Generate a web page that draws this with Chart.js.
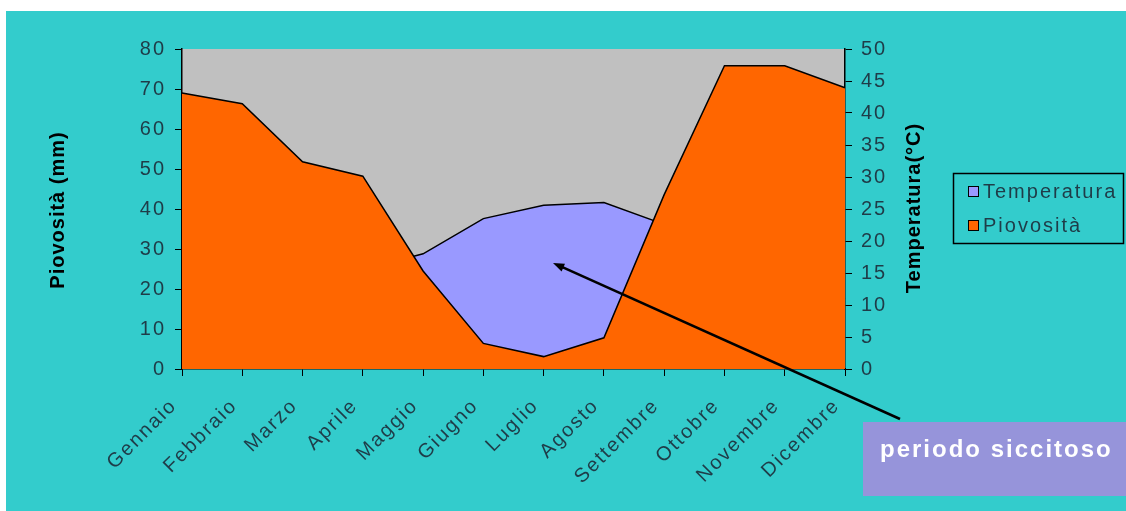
<!DOCTYPE html>
<html>
<head>
<meta charset="utf-8">
<script src="https://cdn.jsdelivr.net/npm/chart.js@4"></script>
<style>
  body { margin: 0; background: #fff; }
</style>
</head>
<body>
<canvas id="grafico" width="1126" height="511"></canvas>
<script>
const mesi = ['Gennaio', 'Febbraio', 'Marzo', 'Aprile', 'Maggio', 'Giugno', 'Luglio', 'Agosto', 'Settembre', 'Ottobre', 'Novembre', 'Dicembre'];
const piovosita = [69, 66.3, 51.8, 48.2, 24.5, 6.4, 3.1, 7.8, 43.6, 75.8, 75.8, 70.3];
const temperatura = [10, 11, 13, 15.5, 18, 23.5, 25.6, 26, 22.6, 18, 14, 11];
const maxPiovosita = 80, passoPiovosita = 10;
const maxTemperatura = 50, passoTemperatura = 5;

const FONT = "'Liberation Sans', Arial, sans-serif";
const TEAL = '#33cccc';
const TESTO = '#1f3c48';

const sfondo = {
  id: 'sfondo',
  afterInit(chart) { chart.ctx.letterSpacing = '2px'; },
  beforeLayout(chart) { chart.ctx.letterSpacing = '2px'; },
  beforeDraw(chart) {
    const ctx = chart.ctx;
    const a = chart.chartArea;
    ctx.letterSpacing = '2px';
    ctx.save();
    ctx.fillStyle = TEAL;
    ctx.fillRect(6, 11, chart.width - 6, chart.height - 11);
    ctx.fillStyle = '#c0c0c0';
    ctx.fillRect(a.left, a.top, a.right - a.left, a.bottom - a.top);
    ctx.restore();
  },
  afterDraw(chart) {
    const ctx = chart.ctx;
    ctx.save();
    // titoli assi
    ctx.fillStyle = '#000';
    ctx.font = 'bold 20px ' + FONT;
    ctx.letterSpacing = '1px';
    ctx.textAlign = 'center';
    ctx.textBaseline = 'middle';
    ctx.save();
    ctx.translate(58, 210);
    ctx.rotate(-Math.PI / 2);
    ctx.fillText('Piovosità (mm)', 0, 0);
    ctx.restore();
    ctx.save();
    ctx.translate(914, 208);
    ctx.rotate(-Math.PI / 2);
    ctx.fillText('Temperatura(°C)', 0, 0);
    ctx.restore();

    // legenda
    ctx.strokeStyle = '#000';
    ctx.lineWidth = 1.5;
    ctx.strokeRect(953.5, 173.5, 170, 70);
    const voci = [['Temperatura', '#9999ff', 192], ['Piovosità', '#ff6600', 226]];
    ctx.font = '20px ' + FONT;
    ctx.letterSpacing = '2px';
    ctx.textAlign = 'left';
    voci.forEach(([nome, colore, y]) => {
      ctx.fillStyle = colore;
      ctx.fillRect(968, y - 6, 11, 11);
      ctx.lineWidth = 1;
      ctx.strokeRect(968.5, y - 5.5, 10, 10);
      ctx.fillStyle = TESTO;
      ctx.fillText(nome, 983, y);
    });

    // riquadro periodo siccitoso
    ctx.fillStyle = '#9694da';
    ctx.fillRect(863, 422, 263, 74);
    ctx.fillStyle = '#fff';
    ctx.font = 'bold 24px ' + FONT;
    ctx.letterSpacing = '2px';
    ctx.textBaseline = 'alphabetic';
    ctx.fillText('periodo siccitoso', 880, 457);

    // freccia
    const x0 = 900, y0 = 419, x1 = 553, y1 = 263;
    const ang = Math.atan2(y1 - y0, x1 - x0);
    ctx.strokeStyle = '#000';
    ctx.lineWidth = 2.5;
    ctx.beginPath();
    ctx.moveTo(x0, y0);
    ctx.lineTo(x1 - Math.cos(ang) * 6, y1 - Math.sin(ang) * 6);
    ctx.stroke();
    ctx.fillStyle = '#000';
    ctx.beginPath();
    ctx.moveTo(x1, y1);
    ctx.lineTo(x1 - 12 * Math.cos(ang - 0.35), y1 - 12 * Math.sin(ang - 0.35));
    ctx.lineTo(x1 - 12 * Math.cos(ang + 0.35), y1 - 12 * Math.sin(ang + 0.35));
    ctx.closePath();
    ctx.fill();
    ctx.restore();
  }
};

const tickFont = { family: FONT, size: 20 };

new Chart('grafico', {
  type: 'line',
  data: {
    labels: mesi,
    datasets: [
      {
        label: 'Temperatura',
        data: temperatura,
        yAxisID: 'yT',
        order: 1,
        fill: 'origin',
        backgroundColor: '#9999ff',
        borderColor: '#000',
        borderWidth: 1.5,
        pointRadius: 0,
        tension: 0
      },
      {
        label: 'Piovosità',
        data: piovosita,
        yAxisID: 'yP',
        order: 0,
        fill: 'origin',
        backgroundColor: '#ff6600',
        borderColor: '#000',
        borderWidth: 1.5,
        pointRadius: 0,
        tension: 0
      }
    ]
  },
  options: {
    responsive: false,
    animation: false,
    layout: { padding: { top: 49, left: 0, right: 0, bottom: 0 } },
    plugins: { legend: { display: false }, tooltip: { enabled: false } },
    scales: {
      x: {
        offset: false,
        z: 1,
        grid: { display: true, drawOnChartArea: false, drawTicks: true, tickLength: 7, color: '#000' },
        border: { color: '#000', width: 1.5 },
        ticks: { font: { family: FONT, size: 20 }, color: TESTO, minRotation: 45, maxRotation: 45, autoSkip: false, padding: 18, labelOffset: -8 },
        afterFit: (s) => { s.height = 142; }
      },
      yP: {
        position: 'left',
        min: 0,
        max: maxPiovosita,
        z: 1,
        grid: { drawOnChartArea: false, tickLength: 7, color: '#000' },
        border: { color: '#000', width: 1.5 },
        ticks: { stepSize: passoPiovosita, font: tickFont, color: TESTO, padding: 9 },
        afterFit: (s) => { s.width = 182; }
      },
      yT: {
        position: 'right',
        min: 0,
        max: maxTemperatura,
        z: 1,
        grid: { drawOnChartArea: false, tickLength: 7, color: '#000' },
        border: { color: '#000', width: 1.5 },
        ticks: { stepSize: passoTemperatura, font: tickFont, color: TESTO, padding: 9 },
        afterFit: (s) => { s.width = 281; }
      }
    }
  },
  plugins: [sfondo]
});
</script>
</body>
</html>
